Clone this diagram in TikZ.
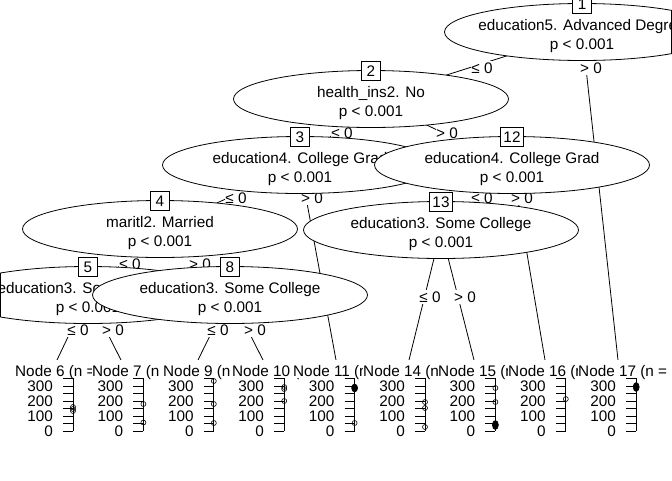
\documentclass[tikz,border=0pt]{standalone}
\usepackage{fontspec}
\setmainfont{Liberation Sans}
\begin{document}
\begin{tikzpicture}[x=1pt,y=-1pt,
  every node/.style={font=\fontsize{15.3}{18}\selectfont, inner sep=0pt},
  line/.style={line width=0.8pt},
  inode/.style={line width=0.8pt, fill=white, draw=black},
  numbox/.style={draw, fill=white, line width=0.8pt, inner xsep=3pt, minimum width=19pt, minimum height=19pt, text height=11pt, text depth=0pt},
  elab/.style={fill=white, inner xsep=0.5pt, inner ysep=1.5pt, anchor=base},
  ttl/.style={fill=white, anchor=base west, inner xsep=0pt, inner ysep=0pt, text height=16pt, text depth=2pt},
  ticklab/.style={anchor=base east},
  opt/.style={line width=0.6pt},
]
\newcommand{\pkinner}[3]{%
  \draw[inode] (#1) ellipse [x radius=137.5, y radius=28.5];
  \node[numbox] (#1num) at ([yshift=28.5pt]#1) {#2};
  \node[anchor=base] (#1la) at ([yshift=1.5pt]#1) {#3};
  \node[anchor=base] (#1lb) at ([yshift=-17.5pt]#1) {p < 0.001};
}
\newcommand{\pkterm}[4]{%
  \node[ttl] (#1title) at (#3,376) {#4};
  \draw[line] (#2,378) -- (#2,431);
  \foreach \j in {0,...,7}{\draw[line] ({#2-10},{431-7.5*\j}) -- ({#2},{431-7.5*\j});}
  \node[ticklab] (#1y0) at ({#2-20},436.5) {0};
  \node[ticklab] (#1y1) at ({#2-20},421.5) {100};
  \node[ticklab] (#1y2) at ({#2-20},406.5) {200};
  \node[ticklab] (#1y3) at ({#2-20},391.5) {300};
}
\useasboundingbox (0,0) rectangle (672,480);
\fill[white] (0,0) rectangle (672,480);
\clip (0,0) rectangle (672,480);

% positions
\coordinate (n1) at (582,32);
\coordinate (n2) at (371,99);
\coordinate (n3) at (300,165);
\coordinate (n12) at (512,165);
\coordinate (n4) at (160,229);
\coordinate (n13) at (441,230);
\coordinate (n5) at (88,295);
\coordinate (n8) at (230,295);
\coordinate (t6) at (57,360);
\coordinate (t7) at (121,360);
\coordinate (t9) at (198,360);
\coordinate (t10) at (263,360);
\coordinate (t11) at (336,360);
\coordinate (t14) at (409,360);
\coordinate (t15) at (474,360);
\coordinate (t16) at (545,360);
\coordinate (t17) at (618,360);

% node 1
\draw[line] (n1) -- (n2);
\draw[line] (n1) -- (t17);
\node[elab] (e1a) at (482,73) {≤ 0};
\node[elab] (e1b) at (591,73.5) {> 0};
\pkinner{n1}{1}{education5. Advanced Degree}
\coordinate (c1a) at (671.6,10);
\coordinate (c1b) at (671.6,54);
\draw[line] (c1a) -- (c1b);

% node 2
\draw[line] (n2) -- (n3);
\draw[line] (n2) -- (n12);
\node[elab] (e2a) at (342,138.5) {≤ 0};
\node[elab] (e2b) at (447,138.5) {> 0};
\pkinner{n2}{2}{health\_ins2. No}

% node 3
\draw[line] (n3) -- (n4);
\draw[line] (n3) -- (t11);
\node[elab] (e3a) at (236,203.5) {≤ 0};
\node[elab] (e3b) at (312,203.5) {> 0};
\pkinner{n3}{3}{education4. College Grad}

% node 4
\draw[line] (n4) -- (n5);
\draw[line] (n4) -- (n8);
\node[elab] (e4a) at (130,269) {≤ 0};
\node[elab] (e4b) at (200,269) {> 0};
\pkinner{n4}{4}{maritl2. Married}

% node 5
\draw[line] (n5) -- (t6);
\draw[line] (n5) -- (t7);
\node[elab] (e5a) at (78,335.5) {≤ 0};
\node[elab] (e5b) at (113,335.5) {> 0};
\pkinner{n5}{5}{education3. Some College}
\coordinate (c5a) at (0.4,273);
\coordinate (c5b) at (0.4,317);
\draw[line] (c5a) -- (c5b);

% terminals 6, 7
\pkterm{k6}{73}{15}{Node 6 (n =}
\draw[opt] (73,407) circle[radius=2.5pt];
\draw[opt] (73,409) circle[radius=2.5pt];
\draw[opt] (73,411) circle[radius=2.5pt];
\pkterm{k7}{143.4}{92}{Node 7 (n =}
\draw[opt] (143.4,404) circle[radius=2.5pt];
\draw[opt] (143.4,422.5) circle[radius=2.5pt];

% node 8
\draw[line] (n8) -- (t9);
\draw[line] (n8) -- (t10);
\node[elab] (e8a) at (218,335.5) {≤ 0};
\node[elab] (e8b) at (255,335.5) {> 0};
\pkinner{n8}{8}{education3. Some College}

% terminals 9, 10, 11
\pkterm{k9}{213.8}{163}{Node 9 (n =}
\draw[opt] (213.8,381) circle[radius=2.5pt];
\draw[opt] (213.8,404) circle[radius=2.5pt];
\draw[opt] (213.8,423) circle[radius=2.5pt];
\pkterm{k10}{284.2}{232}{Node 10 (n =}
\draw[opt] (284.2,387) circle[radius=2.5pt];
\draw[opt] (284.2,389) circle[radius=2.5pt];
\draw[opt] (284.2,401) circle[radius=2.5pt];
\pkterm{k11}{354.6}{293}{Node 11 (n =}
\draw[opt, fill=black] (354.6,388) ellipse[x radius=3pt, y radius=4pt];
\draw[opt] (354.6,423) circle[radius=2.5pt];

% node 12
\draw[line] (n12) -- (n13);
\draw[line] (n12) -- (t16);
\node[elab] (e12a) at (482,203.5) {≤ 0};
\node[elab] (e12b) at (522,203.5) {> 0};
\pkinner{n12}{12}{education4. College Grad}

% node 13
\draw[line] (n13) -- (t14);
\draw[line] (n13) -- (t15);
\node[elab] (e13a) at (430,302.5) {≤ 0};
\node[elab] (e13b) at (465,302.5) {> 0};
\pkinner{n13}{13}{education3. Some College}

% terminals 14 - 17
\pkterm{k14}{425}{363}{Node 14 (n =}
\draw[opt] (425,402) circle[radius=2.5pt];
\draw[opt] (425,408) circle[radius=2.5pt];
\draw[opt] (425,427) circle[radius=2.5pt];
\pkterm{k15}{495.4}{438}{Node 15 (n =}
\draw[opt] (495.4,388) circle[radius=2.5pt];
\draw[opt] (495.4,402) circle[radius=2.5pt];
\draw[opt, fill=black] (495.4,425) ellipse[x radius=3pt, y radius=4.5pt];
\pkterm{k16}{565.8}{508}{Node 16 (n =}
\draw[opt] (565.8,399) circle[radius=2.5pt];
\pkterm{k17}{636.2}{578}{Node 17 (n = 2}
\draw[opt, fill=black] (636.2,387) ellipse[x radius=3pt, y radius=4.5pt];
\end{tikzpicture}
\end{document}
